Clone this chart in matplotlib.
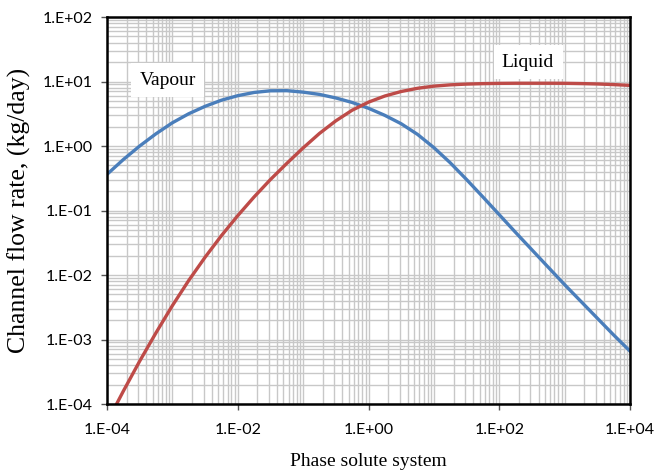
import numpy as np
import matplotlib
matplotlib.use("Agg")
import matplotlib.pyplot as plt
from matplotlib.ticker import FixedLocator, FuncFormatter, NullFormatter

# ---- data (log10 values) ----
log_x = [-4.00, -3.75, -3.50, -3.25, -3.00, -2.75, -2.50, -2.25, -2.00, -1.75,
         -1.50, -1.25, -1.00, -0.75, -0.50, -0.25, 0.00, 0.25, 0.50, 0.75,
         1.00, 1.25, 1.50, 1.75, 2.00, 2.25, 2.50, 2.75, 3.00, 3.25, 3.50, 3.75, 4.00]
vapour_log = [-0.44, -0.21, 0.00, 0.19, 0.36, 0.50, 0.615, 0.71, 0.78, 0.83,
              0.856, 0.858, 0.835, 0.80, 0.745, 0.675, 0.585, 0.475, 0.345, 0.18,
              -0.025, -0.26, -0.52, -0.79, -1.065, -1.34, -1.61, -1.88, -2.15, -2.41, -2.67, -2.93, -3.18]
liquid_log = [-4.285, -3.80, -3.335, -2.895, -2.475, -2.085, -1.725, -1.39, -1.08, -0.79,
              -0.52, -0.27, -0.03, 0.195, 0.39, 0.555, 0.68, 0.775, 0.845, 0.895,
              0.928, 0.948, 0.960, 0.967, 0.971, 0.973, 0.973, 0.973, 0.972, 0.968, 0.962, 0.952, 0.94]

x_ticks = [1e-4, 1e-2, 1e0, 1e2, 1e4]
y_ticks = [1e-4, 1e-3, 1e-2, 1e-1, 1e0, 1e1, 1e2]

x_label = "Phase solute system"
y_label = "Channel flow rate, (kg/day)"
vapour_name = "Vapour"
liquid_name = "Liquid"

x = np.power(10.0, log_x)
vapour = np.power(10.0, vapour_log)
liquid = np.power(10.0, liquid_log)

fig = plt.figure(figsize=(6.71, 4.73), dpi=100)
ax = fig.add_axes([107/671, 1 - 404/473, (630-107)/671, (404-17)/473])

ax.set_xscale('log')
ax.set_yscale('log')
ax.set_xlim(1e-4, 1e4)
ax.set_ylim(1e-4, 1e2)

# gridlines: every decade and 2..9 subdivisions
minor_x = [m * 10.0**k for k in range(-4, 4) for m in range(2, 10)]
odd_dec = [10.0**k for k in range(-3, 4, 2)]
ax.xaxis.set_major_locator(FixedLocator(x_ticks))
ax.xaxis.set_minor_locator(FixedLocator(minor_x + odd_dec))
minor_y = [m * 10.0**k for k in range(-4, 2) for m in range(2, 10)]
ax.yaxis.set_major_locator(FixedLocator(y_ticks))
ax.yaxis.set_minor_locator(FixedLocator(minor_y))

def fmt(v, pos):
    e = int(round(np.log10(v)))
    return "1.E%s%02d" % ("+" if e >= 0 else "-", abs(e))

ax.xaxis.set_major_formatter(FuncFormatter(fmt))
ax.yaxis.set_major_formatter(FuncFormatter(fmt))
ax.xaxis.set_minor_formatter(NullFormatter())
ax.yaxis.set_minor_formatter(NullFormatter())

ax.grid(True, which='both', color='#c8c8c8', linewidth=1.0)
ax.set_axisbelow(True)

ax.tick_params(which='major', direction='out', length=4.5, width=1.0, color='#555555',
               labelsize=11.5)
ax.tick_params(axis='x', which='major', pad=9)
ax.tick_params(axis='y', which='major', pad=6)
ax.tick_params(which='minor', length=0)
for lab in ax.get_xticklabels() + ax.get_yticklabels():
    lab.set_fontfamily('Lato')

for s in ax.spines.values():
    s.set_linewidth(1.8)
    s.set_color('black')

ax.plot(x, vapour, color='#4a7ebb', linewidth=2.4, solid_joinstyle='round')
ax.plot(x, liquid, color='#be4b48', linewidth=2.4, solid_joinstyle='round')

ax.text(10**-3.07, 10**1.02, vapour_name, family='Liberation Serif', fontsize=14,
        ha='center', va='center',
        bbox=dict(facecolor='white', edgecolor='none', pad=6))
ax.text(10**2.44, 10**1.30, liquid_name, family='Liberation Serif', fontsize=14,
        ha='center', va='center',
        bbox=dict(facecolor='white', edgecolor='none', pad=6))

ax.set_xlabel(x_label, family='Liberation Serif', fontsize=14, labelpad=12)
ax.set_ylabel(y_label, family='Liberation Serif', fontsize=18.5, labelpad=8)

fig.savefig("out.png", dpi=100)
